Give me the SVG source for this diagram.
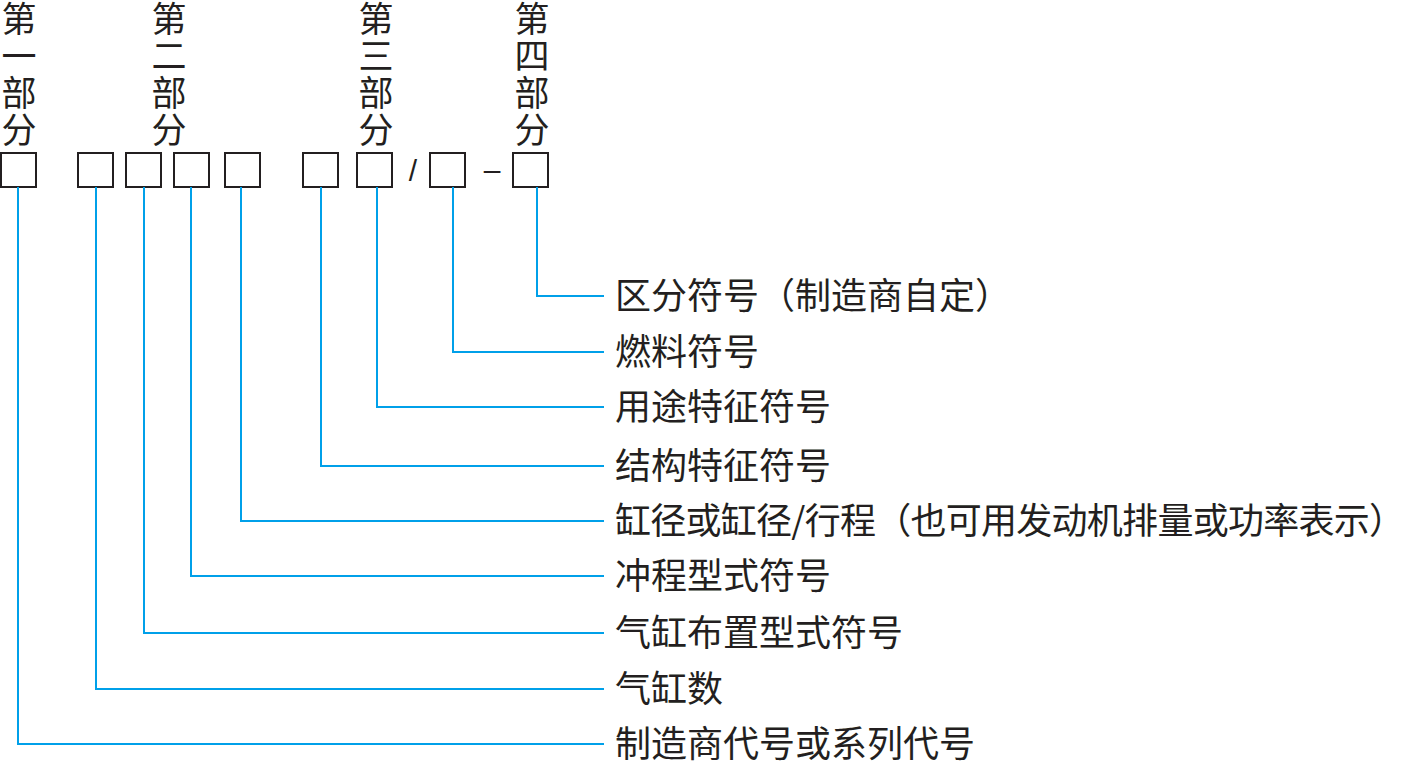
<svg xmlns="http://www.w3.org/2000/svg" width="1408" height="762" viewBox="0 0 1408 762">
<style>
.box{fill:none;stroke:#231f20;stroke-width:2}
.c{fill:none;stroke:#00a0e9;stroke-width:2}
.t{font-family:"Noto Sans CJK SC","Noto Sans",sans-serif;font-size:36px;fill:#231f20}
.v{font-family:"Noto Sans CJK SC","Noto Sans",sans-serif;font-size:35px;fill:#231f20;text-anchor:middle}
.s{font-family:"Liberation Sans",sans-serif;font-size:30px;fill:#231f20;text-anchor:middle}
</style>
<rect width="1408" height="762" fill="#fff"/>
<g id="part1-label"><text class="v" x="19" y="32">第</text><text class="v" x="19" y="69">一</text><text class="v" x="19" y="106">部</text><text class="v" x="19" y="143">分</text></g>
<g id="part2-label"><text class="v" x="169" y="32">第</text><text class="v" x="169" y="69">二</text><text class="v" x="169" y="106">部</text><text class="v" x="169" y="143">分</text></g>
<g id="part3-label"><text class="v" x="376" y="32">第</text><text class="v" x="376" y="69">三</text><text class="v" x="376" y="106">部</text><text class="v" x="376" y="143">分</text></g>
<g id="part4-label"><text class="v" x="532" y="32">第</text><text class="v" x="532" y="69">四</text><text class="v" x="532" y="106">部</text><text class="v" x="532" y="143">分</text></g>
<g id="box1"><rect class="box" x="1" y="153" width="35" height="34"/></g>
<g id="box2"><rect class="box" x="78" y="153" width="35" height="34"/></g>
<g id="box3"><rect class="box" x="126" y="153" width="35" height="34"/></g>
<g id="box4"><rect class="box" x="174" y="153" width="35" height="34"/></g>
<g id="box5"><rect class="box" x="225" y="153" width="35" height="34"/></g>
<g id="box6"><rect class="box" x="303" y="153" width="35" height="34"/></g>
<g id="box7"><rect class="box" x="357" y="153" width="35" height="34"/></g>
<g id="slash"><text class="s" x="413" y="181">/</text></g>
<g id="box8"><rect class="box" x="430" y="153" width="35" height="34"/></g>
<g id="dash"><text class="s" x="492" y="180">–</text></g>
<g id="box9"><rect class="box" x="513" y="153" width="35" height="34"/></g>
<g id="connectors">
<path class="c" d="M537 187V296H604"/>
<path class="c" d="M453 187V352H604"/>
<path class="c" d="M377 187V407H604"/>
<path class="c" d="M321 187V466H604"/>
<path class="c" d="M241 187V521H604"/>
<path class="c" d="M191 187V576H604"/>
<path class="c" d="M144 187V633H604"/>
<path class="c" d="M96 187V689H604"/>
<path class="c" d="M18 187V744H604"/>
</g>
<g id="label1"><text class="t" x="615" y="309">区分符号（制造商自定）</text></g>
<g id="label2"><text class="t" x="615" y="365">燃料符号</text></g>
<g id="label3"><text class="t" x="615" y="420">用途特征符号</text></g>
<g id="label4"><text class="t" x="615" y="479">结构特征符号</text></g>
<g id="label5"><text class="t" x="615" y="534" textLength="790" lengthAdjust="spacing">缸径或缸径/行程（也可用发动机排量或功率表示）</text></g>
<g id="label6"><text class="t" x="615" y="589">冲程型式符号</text></g>
<g id="label7"><text class="t" x="615" y="646">气缸布置型式符号</text></g>
<g id="label8"><text class="t" x="615" y="702">气缸数</text></g>
<g id="label9"><text class="t" x="615" y="757">制造商代号或系列代号</text></g>
</svg>
